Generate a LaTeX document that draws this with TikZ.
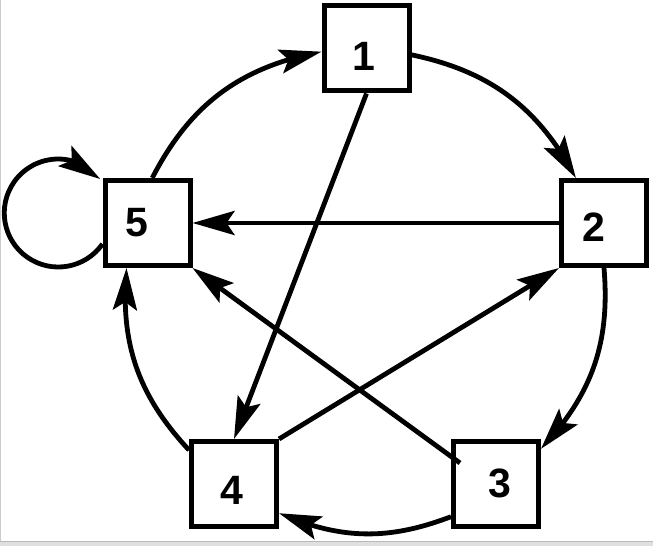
\documentclass[tikz,border=0pt]{standalone}
\usepackage{fontspec}
\setmainfont{Liberation Sans}
\usetikzlibrary{arrows.meta,bending}
\begin{document}
\begin{tikzpicture}[x=1pt,y=1pt,
  box/.style={draw, line width=5pt, minimum size=85pt, inner sep=0pt},
  digit/.style={inner sep=0pt, font=\fontsize{41}{41}\selectfont\bfseries},
  link/.style={line width=4.8pt, -{Stealth[length=42pt, width=24pt, inset=8pt]}},
]
\useasboundingbox (0,0) rectangle (653,546);
% page edge and shadow
\fill[gray!25] (0,0) rectangle (653,4);
\draw[gray!55, line width=0.8pt] (0,4.6) -- (653,4.6);
\draw[gray!40, line width=0.8pt] (0.4,4.6) -- (0.4,546);

% the five boxes
\node[box] (n1) at (366.5,497.5) {};
\node[box] (n2) at (604,323) {};
\node[box] (n3) at (496,62) {};
\node[box] (n4) at (234,62) {};
\node[box] (n5) at (147.5,323) {};

% their numbers
\node[digit] (t1) at ([shift={(-3,-8)}]n1) {1};
\node[digit] (t2) at ([shift={(-10,-4)}]n2) {2};
\node[digit] (t3) at ([shift={(3.5,1)}]n3) {3};
\node[digit] (t4) at ([shift={(-2,-6.5)}]n4) {4};
\node[digit] (t5) at ([shift={(-11,0)}]n5) {5};

% arcs around the ring
\draw[link] (n5.84) to[bend left=26] (n1.184);
\draw[link] (n1.352) to[bend left=25] (n2.122);
\draw[link] (n2.south) to[bend left=24] (n3.38);
\draw[link] (n3.216) to[bend left=22] (n4.327);
\draw[link] (n4.143) to[bend left=24] (n5.245);

% self loop on 5
\draw[link] (n5.205) arc[start angle=-35, end angle=-321, radius=54];

% chords
\draw[link] (n1.south) -- (n4.north);
\draw[link] (n2.west) -- (n5.east);
\draw[link] (n4.north east) -- (n2.south west);
\draw[link] ([shift={(9,-24)}]n3.north west) -- (n5.south east);
\end{tikzpicture}
\end{document}
